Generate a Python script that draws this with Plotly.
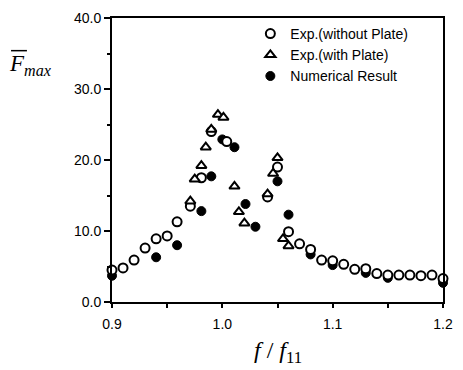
import plotly.graph_objects as go

# Exp. (without Plate)
x_open = [0.900, 0.910, 0.920, 0.930, 0.940, 0.950, 0.959, 0.971, 0.981, 0.990, 1.004,
          1.041, 1.050, 1.060, 1.070, 1.080, 1.090, 1.100, 1.110, 1.120, 1.130, 1.140,
          1.150, 1.160, 1.170, 1.180, 1.190, 1.200]
y_open = [4.5, 4.8, 5.9, 7.6, 8.9, 9.3, 11.3, 13.5, 17.5, 24.0, 22.6,
          14.8, 19.0, 9.9, 8.2, 7.4, 5.9, 5.8, 5.3, 4.6, 4.7, 4.0,
          3.8, 3.8, 3.8, 3.7, 3.8, 3.3]

# Exp. (with Plate)
x_tri = [0.971, 0.975, 0.981, 0.985, 0.990, 0.996, 1.001, 1.011, 1.015, 1.020,
         1.041, 1.046, 1.050, 1.055, 1.060]
y_tri = [14.2, 17.3, 19.2, 21.8, 24.3, 26.4, 26.0, 16.3, 12.7, 11.1,
         15.2, 18.1, 20.3, 8.9, 7.9]

# Numerical Result
x_num = [0.900, 0.940, 0.959, 0.981, 0.990, 1.000, 1.011, 1.021, 1.030,
         1.050, 1.060, 1.080, 1.100, 1.130, 1.150, 1.200]
y_num = [3.7, 6.3, 8.0, 12.8, 17.7, 22.9, 21.8, 13.8, 10.6,
         17.0, 12.3, 6.7, 5.2, 4.1, 3.4, 2.7]

x_ticks = [0.9, 1.0, 1.1, 1.2]
x_ticklabels = ["0.9", "1.0", "1.1", "1.2"]
y_ticks = [0, 10, 20, 30, 40]
y_ticklabels = ["0.0", "10.0", "20.0", "30.0", "40.0"]

fig = go.Figure()
fig.add_trace(go.Scatter(
    x=x_num, y=y_num, mode="markers", name="Numerical Result", legendrank=3,
    marker=dict(symbol="circle", size=9, color="black", line=dict(color="black", width=1)),
    cliponaxis=False))
fig.add_trace(go.Scatter(
    x=x_open, y=y_open, mode="markers", name="Exp.(without Plate)", legendrank=1,
    marker=dict(symbol="circle", size=9, color="white", line=dict(color="black", width=2)),
    cliponaxis=False))
fig.add_trace(go.Scatter(
    x=x_tri, y=y_tri, mode="markers", name="Exp.(with Plate)", legendrank=2,
    marker=dict(symbol="triangle-up", size=9, color="white", line=dict(color="black", width=2)),
    cliponaxis=False))

tickfont = dict(family="Liberation Sans, Arial, sans-serif", size=14, color="black")

fig.update_layout(
    width=463, height=370,
    margin=dict(l=112, r=12, t=10, b=68),
    paper_bgcolor="white", plot_bgcolor="white",
    showlegend=True,
    legend=dict(x=0.418, y=1.0, xanchor="left", yanchor="top",
                bgcolor="rgba(0,0,0,0)", borderwidth=0,
                font=dict(family="Liberation Sans, Arial, sans-serif", size=14, color="black"),
                tracegroupgap=0, itemwidth=30),
    xaxis=dict(range=[0.9, 1.2], tickvals=x_ticks, ticktext=x_ticklabels,
               ticks="outside", ticklen=4, tickwidth=1.5, tickcolor="black",
               minor=dict(dtick=0.05, ticks="outside", ticklen=4, tickwidth=1.5, tickcolor="black"),
               showline=True, linecolor="black", linewidth=2, mirror=True,
               showgrid=False, zeroline=False, tickfont=tickfont, ticklabelstandoff=4),
    yaxis=dict(range=[0, 40], tickvals=y_ticks, ticktext=y_ticklabels,
               ticks="outside", ticklen=6, tickwidth=1.5, tickcolor="black",
               minor=dict(dtick=5, ticks="outside", ticklen=3, tickwidth=1.5, tickcolor="black"),
               showline=True, linecolor="black", linewidth=2, mirror=True,
               showgrid=False, zeroline=False, tickfont=tickfont),
)

serif = dict(family="Liberation Serif, Times New Roman, serif", size=23, color="black")
fig.add_annotation(xref="paper", yref="paper", x=-0.317, y=0.835, xanchor="left", yanchor="middle",
                   text="<i>F</i><sub><i>max</i></sub>", showarrow=False, font=serif)
fig.add_shape(type="line", xref="paper", yref="paper", x0=-0.305, x1=-0.257, y0=0.885, y1=0.885,
              line=dict(color="black", width=1.5))
fig.add_annotation(xref="paper", yref="paper", x=0.5, y=-0.175, xanchor="center", yanchor="middle",
                   text="<i>f</i> / <i>f</i><sub>11</sub>", showarrow=False,
                   font=dict(family="Liberation Serif, Times New Roman, serif", size=24, color="black"))

fig.write_html("out.html")
